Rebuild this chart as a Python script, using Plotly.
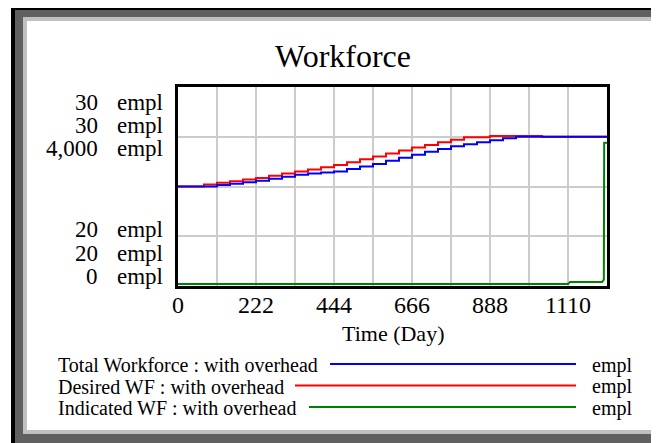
import plotly.graph_objects as go

# ---------------- data ----------------
time_days = [0, 37, 74, 111, 148, 185, 222, 259, 296, 333, 370, 407, 444, 481, 518,
             555, 592, 629, 666, 703, 740, 777, 814, 851, 888, 925, 962, 999, 1036,
             1073, 1110, 1147, 1184, 1221]
total_wf = [25.00, 25.00, 25.00, 25.08, 25.14, 25.21, 25.29, 25.39, 25.49, 25.59,
            25.65, 25.70, 25.76, 25.88, 26.00, 26.13, 26.29, 26.44, 26.60, 26.74,
            26.88, 27.02, 27.12, 27.22, 27.32, 27.42, 27.50, 27.50, 27.50, 27.50,
            27.50, 27.50, 27.50, 27.50]
desired_wf = [25.00, 25.00, 25.10, 25.19, 25.27, 25.35, 25.43, 25.54, 25.65, 25.76,
              25.86, 25.97, 26.08, 26.22, 26.37, 26.51, 26.66, 26.81, 26.96, 27.09,
              27.22, 27.35, 27.47, 27.47, 27.54, 27.54, 27.54, 27.54, 27.50, 27.50,
              27.50, 27.50, 27.50, 27.50]
indicated_time = [0, 1110, 1116, 1207, 1212, 1213, 1221]
indicated_wf = [0, 0, 40, 40, 90, 2870, 2870]

x_tick_vals = [0, 111, 222, 333, 444, 555, 666, 777, 888, 999, 1110]
x_tick_text = ["0", "", "222", "", "444", "", "666", "", "888", "", "1110"]
y_top_labels = ["30", "30", "4,000"]
y_bottom_labels = ["20", "20", "0"]
unit = "empl"
series_names = ["Total Workforce : with overhead", "Desired WF : with overhead",
                "Indicated WF : with overhead"]
series_colors = ["#0000FF", "#FF0000", "#008000"]

# ---------------- layout geometry ----------------
OFF = 8                      # page body margin
W, H = 659 - OFF, 443 - OFF
L, T = 178 - OFF, 87 - OFF
PW, PH = 429, 199
R, B = W - L - PW, H - T - PH
FONT = "Liberation Serif"


def px(x):  # page pixel -> paper fraction
    return (x - OFF - L) / PW


def py(y):
    return (T + PH - (y - OFF)) / PH


fig = go.Figure()

fig.add_trace(go.Scatter(x=indicated_time, y=indicated_wf, mode="lines", yaxis="y2",
                         line=dict(color=series_colors[2], width=2),
                         name=series_names[2], showlegend=False))
fig.add_trace(go.Scatter(x=time_days, y=desired_wf, mode="lines", line_shape="hv",
                         line=dict(color=series_colors[1], width=2),
                         name=series_names[1], showlegend=False))
fig.add_trace(go.Scatter(x=time_days, y=total_wf, mode="lines", line_shape="hv",
                         line=dict(color=series_colors[0], width=2),
                         name=series_names[0], showlegend=False))

shapes = []
# window frame
for (x0, y0, x1, y1, c) in [(11, 0, 720, 520, "#000000"),
                            (15, 10, 720, 520, "#606060"),
                            (23, 17, 720, 434, "#C0C0C0"),
                            (27, 21, 720, 430, "#FFFFFF")]:
    shapes.append(dict(type="rect", xref="paper", yref="paper", layer="below",
                       x0=px(x0), x1=px(x1), y0=py(y0), y1=py(y1),
                       fillcolor=c, line=dict(width=0)))

annotations = []
# title
annotations.append(dict(text="Workforce", xref="paper", yref="paper", x=px(342.5), y=py(56),
                        xanchor="center", yanchor="middle", showarrow=False,
                        font=dict(family=FONT, size=32, color="black")))
# y labels
top_rows = [102, 125, 148.5]
bot_rows = [229, 253, 276]
for lab, yy in list(zip(y_top_labels, top_rows)) + list(zip(y_bottom_labels, bot_rows)):
    annotations.append(dict(text=lab, xref="paper", yref="paper", x=px(99), y=py(yy),
                            xanchor="right", yanchor="middle", showarrow=False, borderpad=0,
                            font=dict(family=FONT, size=23, color="black")))
    annotations.append(dict(text=unit, xref="paper", yref="paper", x=px(116), y=py(yy),
                            xanchor="left", yanchor="middle", showarrow=False, borderpad=0,
                            font=dict(family=FONT, size=23, color="black")))
# axis title
annotations.append(dict(text="Time (Day)", xref="paper", yref="paper", x=px(393), y=py(333),
                        xanchor="center", yanchor="middle", showarrow=False,
                        font=dict(family=FONT, size=22, color="black")))
# legend
leg_rows = [365, 386.5, 408]
line_start = [330, 295, 309]
for name, col, yy, xs in zip(series_names, series_colors, leg_rows, line_start):
    annotations.append(dict(text=name, xref="paper", yref="paper", x=px(56), y=py(yy),
                            xanchor="left", yanchor="middle", showarrow=False,
                            font=dict(family=FONT, size=20, color="black")))
    annotations.append(dict(text=unit, xref="paper", yref="paper", x=px(590), y=py(yy),
                            xanchor="left", yanchor="middle", showarrow=False,
                            font=dict(family=FONT, size=20, color="black")))
    shapes.append(dict(type="line", xref="paper", yref="paper", layer="above",
                       x0=px(xs), x1=px(576), y0=py(yy - 1), y1=py(yy - 1),
                       line=dict(color=col, width=2)))

fig.update_layout(
    width=W, height=H, autosize=False,
    margin=dict(l=L, r=R, t=T, b=B, pad=0),
    paper_bgcolor="white", plot_bgcolor="white",
    showlegend=False,
    shapes=shapes, annotations=annotations,
    xaxis=dict(range=[0, 1221], tickmode="array", tickvals=x_tick_vals, ticktext=x_tick_text,
               showgrid=True, gridcolor="#CCCCCC", gridwidth=1.5, zeroline=False,
               showline=True, linecolor="black", linewidth=3, mirror=True, ticks="",
               ticklabelstandoff=-5,
               tickfont=dict(family=FONT, size=24, color="black"), fixedrange=True),
    yaxis=dict(range=[20, 30], tickmode="array", tickvals=[22.5, 25, 27.5],
               showticklabels=False, showgrid=True, gridcolor="#CCCCCC", gridwidth=1.5,
               zeroline=False, showline=True, linecolor="black", linewidth=3, mirror=True,
               ticks="", fixedrange=True),
    yaxis2=dict(range=[-40, 4000], overlaying="y", visible=False, fixedrange=True),
)

fig.write_html("out.html")
